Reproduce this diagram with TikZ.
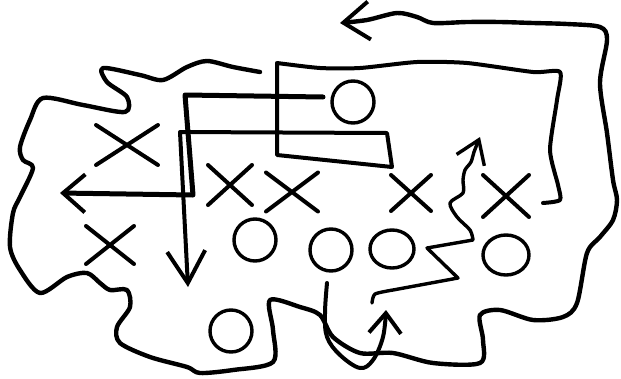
\documentclass[tikz,border=0pt]{standalone}
\usetikzlibrary{arrows.meta,shapes.geometric,shapes.misc}
\begin{document}
\begin{tikzpicture}[x=1pt,y=-1pt,
  ink/.style={line width=4pt,line cap=round,line join=round,black},
  barb/.style={-{Straight Barb[length=#1,width=38pt,line width=4pt]}},
  barb/.default=22pt,
  player/.style={circle,draw,line width=3.4pt,minimum size=42pt,inner sep=0pt},
  playerw/.style={ellipse,draw,line width=3.4pt,inner sep=0pt},
  defender/.style={cross out,draw,line width=4pt,line cap=round,inner sep=0pt}]
\useasboundingbox (0,0) rectangle (621,378);
% offense
\node[player] (c1) at (353,102) {};
\node[player] (c2) at (255,240) {};
\node[player] (c3) at (231,331) {};
\node[player] (c4) at (331,250) {};
\node[playerw,minimum width=44pt,minimum height=38pt] (c5) at (392,249) {};
\node[playerw,minimum width=46pt,minimum height=40pt] (c6) at (506,255) {};
% defense
\node[defender,minimum width=58pt,minimum height=36pt] (xa) at (127,145) {};
\node[defender,minimum width=40pt,minimum height=36pt] (xb) at (230,185) {};
\node[defender,minimum width=48pt,minimum height=35pt] (xc) at (292,192) {};
\node[defender,minimum width=44pt,minimum height=34pt] (xd) at (110,245) {};
\node[defender,minimum width=36pt,minimum height=32pt] (xe) at (411,193) {};
\node[defender,minimum width=42pt,minimum height=38pt] (xf) at (506,196) {};
% outline with arrow
\draw[ink,line width=4.4pt,barb=26pt] plot[smooth,tension=0.5] coordinates{
(260,72)(233,67)(207,61)(187,67)(163,80)(140,75)(103,68)(107,82)(127,97)(125,112)
(83,105)(43,98)(30,120)(20,147)(23,160)(33,168)(20,197)(13,213)(10,247)(20,270)
(40,293)(67,277)(87,273)(100,283)(110,290)(127,290)(130,307)(117,327)(120,343)
(150,357)(187,367)(200,373)(233,370)(273,362)(273,330)(270,300)(300,307)(320,315)
(333,337)(360,353)(393,353)(433,363)(480,363)(483,340)(480,315)(500,310)(533,320)
(563,317)(577,303)(587,253)(600,237)(613,220)(617,200)(613,180)(607,133)(600,83)
(607,40)(600,27)(567,24)(533,23)(500,22)(467,22)(433,23)(417,17)(397,13)(367,20)(340,23)};
% long route: hook, box, down arrow
\draw[ink,barb=32pt] plot[smooth,tension=0.4] coordinates{
(543,203)(560,200)(558,185)(550,150)(557,100)(560,72)(533,72)(467,63)(417,62)(360,68)(320,68)(277,63)}
-- (277,155) -- (392,167) -- (387,133) -- (180,132) -- (188,287);
% thick route to the left
\draw[ink,line width=5pt,barb=22pt] (323,97) -- (185,95) -- (193,195) -- (60,193);
% wavy route up
\draw[ink,line width=3.4pt,-{Straight Barb[length=22pt,width=30pt,line width=3.4pt]}] plot[smooth,tension=0.4] coordinates{
(372,303)(375,294)(393,290)} -- (458,278) -- (427,248) -- (473,240)
plot[smooth,tension=0.5] coordinates{(473,240)(470,230)(457,217)(450,203)(463,193)(463,180)(465,170)(471,162)(474,152)(480,137)};
% curved route from under center
\draw[ink,-{Straight Barb[length=20pt,width=32pt,line width=4pt]}] plot[smooth,tension=0.6] coordinates{
(327,283)(325,313)(327,337)(340,355)(360,368)(373,360)(383,337)(386,310)};
\end{tikzpicture}
\end{document}
